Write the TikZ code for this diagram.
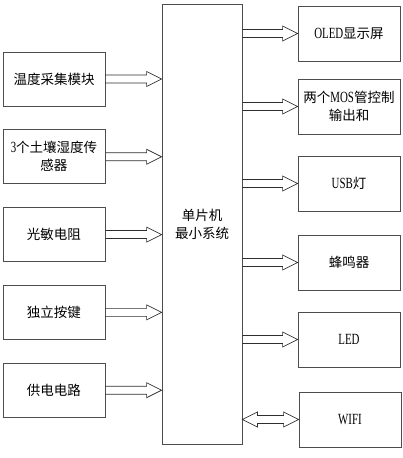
\documentclass[tikz,border=0pt]{standalone}
\usepackage{fontspec}
\setmainfont{Noto Sans CJK SC}
\newfontfamily\latn[FakeStretch=0.7, Scale=1.15]{Liberation Serif}
\usepackage{tikz}
\usetikzlibrary{
  positioning,
  calc
}
\definecolor{boxStroke}{HTML}{4D4D4D}
\definecolor{arrStroke}{HTML}{2E2E2E}
\tikzset{
  base/.style={
    rectangle, align=center, inner sep=2pt,
    draw=boxStroke, line width=0.8pt, text=black,
    font=\fontsize{13.5}{18}\selectfont
  },
  in nd/.style={base, minimum width=102pt, minimum height=54pt},
  out nd/.style={base, minimum width=102pt, minimum height=55pt},
  mcu nd/.style={base, minimum width=80pt, minimum height=440pt},
  fat/.style={draw=arrStroke, line width=0.7pt, line join=miter}
}
% hollow block arrow: #1 start point, #2 tip (same height)
\newcommand{\fatarrow}[2]{%
  \path #1 coordinate (fa s) #2 coordinate (fa t);
  \draw[fat] ($(fa s)+(0,4)$) -- ($(fa t)+(-15,4)$) -- ($(fa t)+(-15,7.5)$)
    -- (fa t) -- ($(fa t)+(-15,-7.5)$) -- ($(fa t)+(-15,-4)$)
    -- ($(fa s)+(0,-4)$);
}
% hollow block arrow with a head at both ends
\newcommand{\fatdarrow}[2]{%
  \path #1 coordinate (fa s) #2 coordinate (fa t);
  \draw[fat] ($(fa s)+(15,4)$) -- ($(fa t)+(-15,4)$) -- ($(fa t)+(-15,7.5)$)
    -- (fa t) -- ($(fa t)+(-15,-7.5)$) -- ($(fa t)+(-15,-4)$)
    -- ($(fa s)+(15,-4)$) -- ($(fa s)+(15,-7.5)$) -- (fa s)
    -- ($(fa s)+(15,7.5)$) -- cycle;
}

\begin{document}
\begin{tikzpicture}[x=1pt, y=1pt]
    \useasboundingbox (0,0) rectangle (403,458);

    \node[mcu nd] (mcu) at (202,234) {单片机\\最小系统};

    % inputs
    \node[in nd] (temp) at (54,379) {温度采集模块};
    \node[in nd, below=23pt of temp] (soil)
      {{\latn 3}个土壤湿度传\\感器};
    \node[in nd, below=23pt of soil] (ldr) {光敏电阻};
    \node[in nd, below=23pt of ldr] (key) {独立按键};
    \node[in nd, below=23pt of key] (pwr) {供电电路};

    \foreach \src in {temp, soil, ldr, key, pwr}{
      \fatarrow{(\src.east)}{(mcu.west |- \src.east)}
    }

    % outputs
    \node[out nd] (oled) at (349,424.5) {{\latn OLED}显示屏};
    \node[out nd] (mos) at (349,351.5) {两个{\latn MOS}管控制\\输出和};
    \node[out nd] (usb) at (349,274.5) {{\latn USB}灯};
    \node[out nd] (buzz) at (349,195.5) {蜂鸣器};
    \node[out nd] (led) at (349,118.5) {{\latn LED}};
    \node[out nd] (wifi) at (350,38.5) {{\latn WIFI}};

    \foreach \dst in {oled, mos, usb, buzz, led}{
      \fatarrow{(mcu.east |- \dst.west)}{(\dst.west)}
    }
    \fatdarrow{(mcu.east |- wifi.west)}{(wifi.west)}

  \end{tikzpicture}
\end{document}
